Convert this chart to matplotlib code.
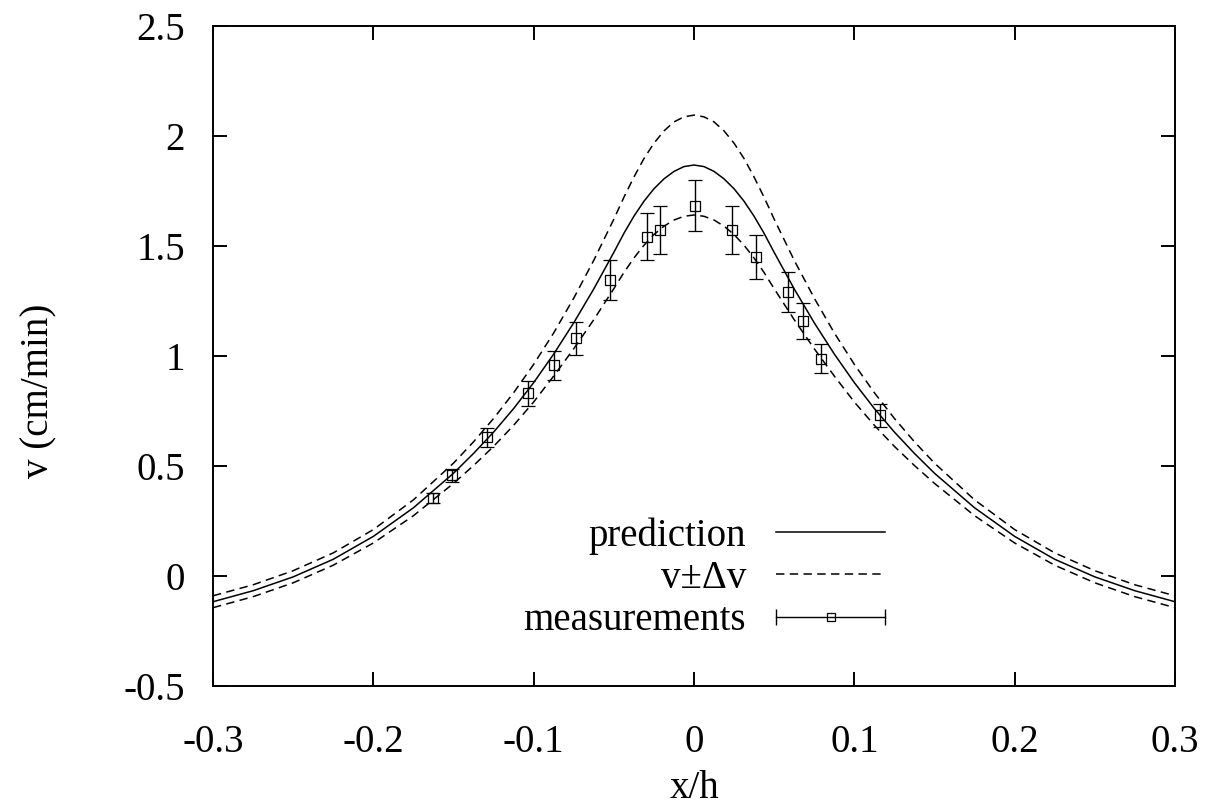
import matplotlib.pyplot as plt
import numpy as np
from matplotlib.lines import Line2D
from matplotlib.legend_handler import HandlerLine2D, HandlerTuple

plt.rcParams['font.family'] = ['Liberation Serif', 'DejaVu Serif']
plt.rcParams['axes.unicode_minus'] = False

x_half = [0.0, 0.00625, 0.0125, 0.01875, 0.025, 0.03125, 0.0375, 0.04375, 0.05,
          0.0625, 0.075, 0.0875, 0.1, 0.1125, 0.125, 0.1375, 0.15,
          0.175, 0.2, 0.225, 0.25, 0.275, 0.3]
pred_half = [1.868, 1.861, 1.839, 1.805, 1.760, 1.703, 1.635, 1.557, 1.471,
             1.305, 1.151, 1.009, 0.879, 0.761, 0.654, 0.557, 0.467,
             0.310, 0.180, 0.076, -0.004, -0.067, -0.117]
hi_half = [2.095, 2.087, 2.064, 2.023, 1.967, 1.897, 1.813, 1.721, 1.622,
           1.435, 1.263, 1.105, 0.962, 0.833, 0.716, 0.610, 0.513,
           0.346, 0.211, 0.105, 0.024, -0.040, -0.090]
lo_half = [1.641, 1.635, 1.618, 1.590, 1.552, 1.503, 1.445, 1.379, 1.306,
           1.165, 1.033, 0.909, 0.791, 0.685, 0.589, 0.502, 0.421,
           0.274, 0.150, 0.049, -0.031, -0.094, -0.144]

xc = [-v for v in x_half[:0:-1]] + x_half
v_pred = pred_half[:0:-1] + pred_half
v_hi = hi_half[:0:-1] + hi_half
v_lo = lo_half[:0:-1] + lo_half

# measurements with error bars
xm = [-0.1626, -0.1508, -0.129, -0.1036, -0.0873, -0.0736, -0.0522, -0.0293,
      -0.0212, 0.0004, 0.0235, 0.0389, 0.0584, 0.0682, 0.079, 0.1158]
vm = [0.353, 0.458, 0.630, 0.830, 0.959, 1.080, 1.345, 1.542,
      1.573, 1.683, 1.573, 1.450, 1.290, 1.158, 0.988, 0.730]
dv = [0.023, 0.030, 0.043, 0.057, 0.066, 0.075, 0.092, 0.106,
      0.110, 0.117, 0.110, 0.100, 0.090, 0.082, 0.067, 0.051]

xticks = [-0.3, -0.2, -0.1, 0, 0.1, 0.2, 0.3]
xlabels = ['-0.3', '-0.2', '-0.1', '0', '0.1', '0.2', '0.3']
yticks = [-0.5, 0, 0.5, 1, 1.5, 2, 2.5]
ylabels = ['-0.5', '0', '0.5', '1', '1.5', '2', '2.5']

fs = 28
fig = plt.figure(figsize=(12.18, 8.10), dpi=100)
ax = fig.add_axes([213/1218, 1-686/810, 962/1218, 660/810])

dash = (0, (5.5, 3.5))
ax.plot(xc, v_pred, color='k', lw=1.1)
ax.plot(xc, v_hi, color='k', lw=1.1, linestyle=dash)
ax.plot(xc, v_lo, color='k', lw=1.1, linestyle=dash)
ax.errorbar(xm, vm, yerr=dv, fmt='s', color='k', mfc='none', ms=6.5, mew=0.9,
            ecolor='k', elinewidth=1.0, capsize=5, capthick=1.0)

ax.set_xlim(-0.3, 0.3)
ax.set_ylim(-0.5, 2.5)
ax.set_xticks(xticks, xlabels)
ax.set_yticks(yticks, ylabels)
ax.tick_params(direction='in', length=10, width=1.4, top=True, right=True,
               labelsize=fs, pad=20)
ax.tick_params(axis='x', pad=27)
for s in ax.spines.values():
    s.set_linewidth(1.4)

ax.set_xlabel('x/h', fontsize=fs)
ax.set_ylabel('v (cm/min)', fontsize=fs)
ax.xaxis.set_label_coords(0.5, -0.128)
ax.yaxis.set_label_coords(-0.162, 0.448)

# legend handles in gnuplot style
h_pred = Line2D([], [], color='k', lw=1.1)
h_dash = Line2D([], [], color='k', lw=1.1, linestyle=dash)
h_bar = Line2D([], [], color='k', lw=1.0, marker='|', ms=12, mew=1.0)
h_sq = Line2D([], [], color='k', lw=0, marker='s', mfc='none', ms=5.5, mew=0.9)
ax.legend([h_pred, h_dash, (h_bar, h_sq)],
          ['prediction', 'v\u00b1\u0394v', 'measurements'],
          handler_map={h_bar: HandlerLine2D(numpoints=2, marker_pad=0),
                       h_sq: HandlerLine2D(numpoints=1),
                       tuple: HandlerTuple(ndivide=1)},
          markerfirst=False, frameon=False, fontsize=fs,
          loc='upper right', bbox_to_anchor=(0.6985, 0.256),
          borderaxespad=0, borderpad=0, handlelength=2.8,
          handletextpad=0.77, labelspacing=0.14)

fig.savefig('out.png', dpi=100)
